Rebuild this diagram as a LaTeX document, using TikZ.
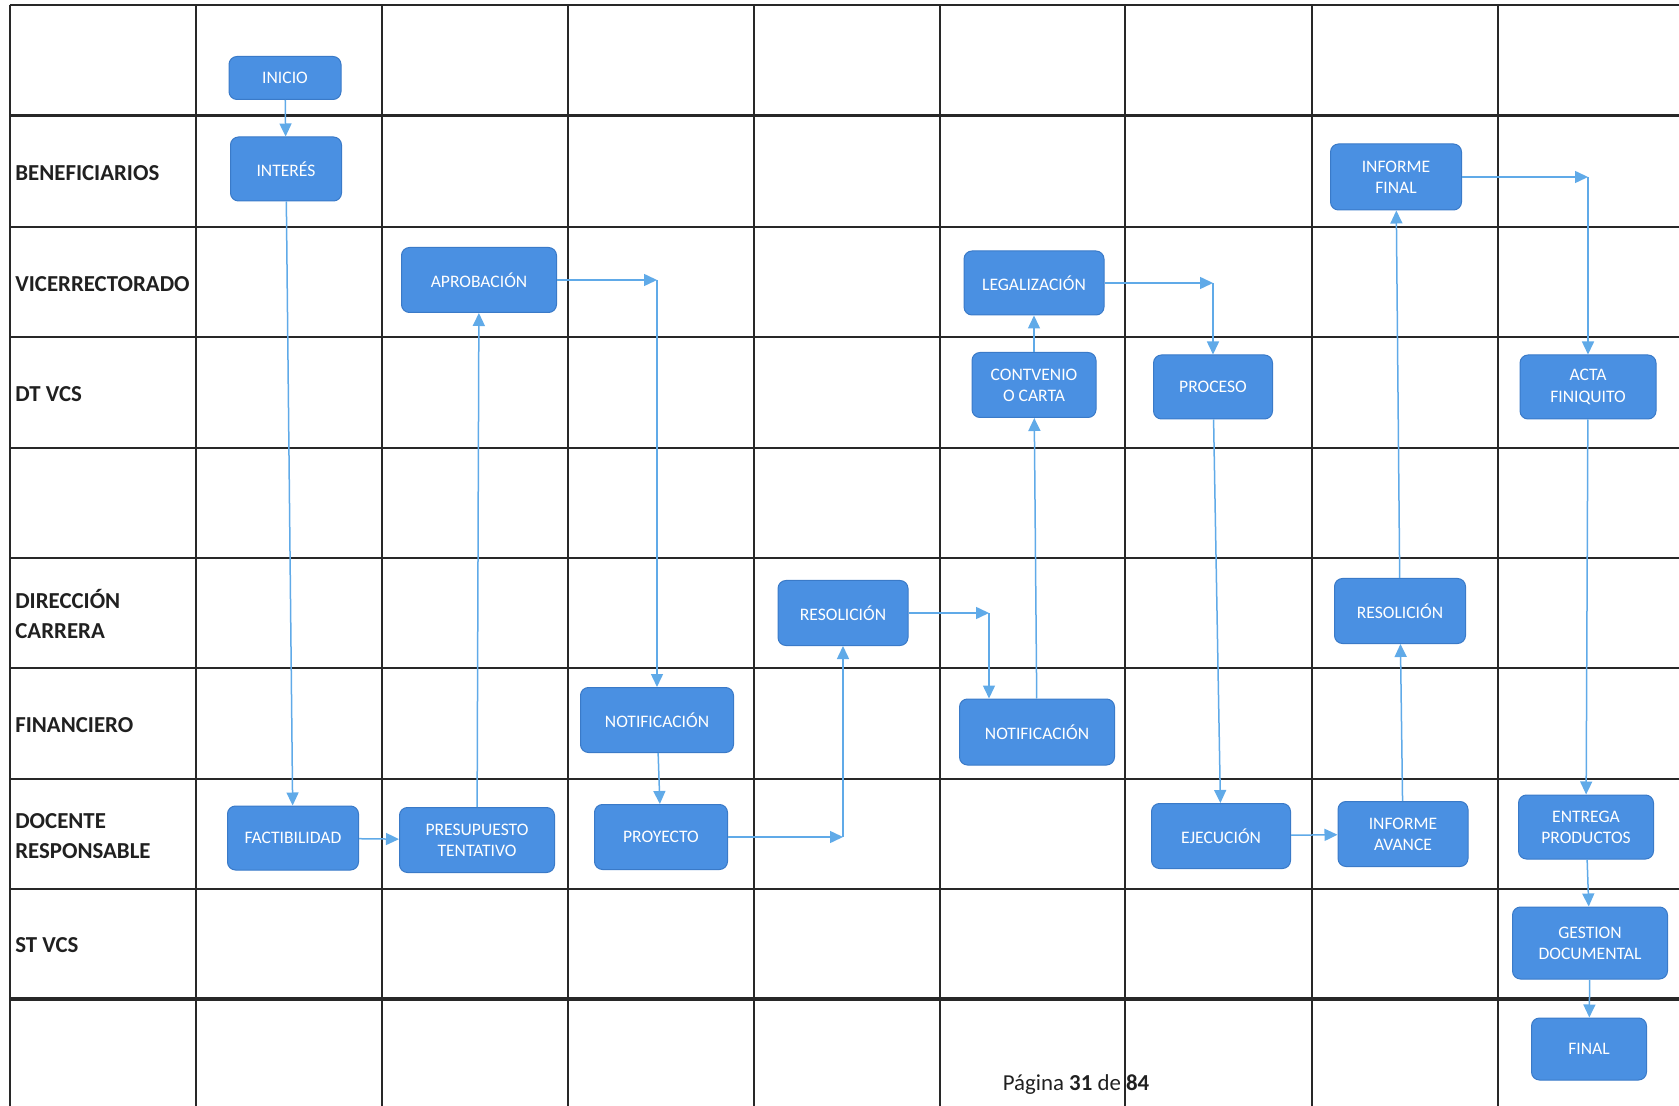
\documentclass[tikz,border=0pt]{standalone}
\usepackage{fontspec}
\setmainfont{Carlito}
\usepackage{xcolor}
\usepackage{tikz}
\usetikzlibrary{arrows.meta}
\definecolor{vcsBlue}{RGB}{74, 144, 226}
\definecolor{vcsEdge}{RGB}{58, 122, 200}
\definecolor{vcsArrow}{RGB}{96, 170, 232}
\definecolor{vcsGrid}{RGB}{40, 40, 40}

\begin{document}
\begin{tikzpicture}[x=0.2mm, y=-0.2mm,
  paso/.style={rectangle, rounded corners=1.6mm, fill=vcsBlue, draw=vcsEdge, line width=0.2mm,
    text=white, font=\fontsize{10}{12}\selectfont, align=center, inner sep=1mm},
  flecha/.style={draw=vcsArrow, line width=0.3mm, -{Triangle[length=2.6mm,width=2.4mm]}},
  carril/.style={anchor=west, inner sep=0pt, font=\fontsize{13}{17.5}\selectfont\bfseries, align=left, text=vcsGrid!80!black},
  linea/.style={draw=vcsGrid, line width=0.4mm},
  gruesa/.style={draw=vcsGrid, line width=0.65mm}]
\useasboundingbox (0,0) rectangle (1679,1106);

% Grid (rows)
\draw[linea] (9.6,5.4) -- (1679,5.4);
\draw[gruesa] (9.6,115.6) -- (1679,115.6);
\draw[linea] (9.6,227) -- (1679,227);
\draw[linea] (9.6,337.3) -- (1679,337.3);
\draw[linea] (9.6,447.6) -- (1679,447.6);
\draw[linea] (9.6,557.9) -- (1679,557.9);
\draw[linea] (9.6,668.2) -- (1679,668.2);
\draw[linea] (9.6,778.5) -- (1679,778.5);
\draw[linea] (9.6,888.8) -- (1679,888.8);
\draw[gruesa] (9.6,999) -- (1679,999);

% Grid (columns)
\draw[linea] (9.6,5.4) -- (9.6,1106);
\draw[linea] (196,5.4) -- (196,1106);
\draw[linea] (382,5.4) -- (382,1106);
\draw[linea] (567.5,5.4) -- (567.5,1106);
\draw[linea] (754,5.4) -- (754,1106);
\draw[linea] (940,5.4) -- (940,1106);
\draw[linea] (1125.4,5.4) -- (1125.4,1106);
\draw[linea] (1311.7,5.4) -- (1311.7,1106);
\draw[linea] (1498,5.4) -- (1498,1106);

% Lane labels
\node[carril] (lBenef) at (15,173.5) {BENEFICIARIOS};
\node[carril] (lVice) at (15,284) {VICERRECTORADO};
\node[carril] (lDtvcs) at (15,394) {DT VCS};
\node[carril] (lDir) at (15,614) {DIRECCIÓN\\CARRERA};
\node[carril] (lFin) at (15,725) {FINANCIERO};
\node[carril] (lDoc) at (15,836) {DOCENTE\\RESPONSABLE};
\node[carril] (lStvcs) at (15,945.5) {ST VCS};

% Steps
\node[paso, minimum width=22.4mm, minimum height=8.6mm] (inicio) at (285,78) {INICIO};
\node[paso, minimum width=22.2mm, minimum height=12.8mm] (interes) at (286,169) {INTERÉS};
\node[paso, minimum width=31mm, minimum height=13mm] (aprobacion) at (479,280) {APROBACIÓN};
\node[paso, minimum width=28mm, minimum height=12.8mm] (legalizacion) at (1034,283) {LEGALIZACIÓN};
\node[paso, minimum width=24.8mm, minimum height=13mm] (convenio) at (1034,385) {CONTVENIO\\O CARTA};
\node[paso, minimum width=23.8mm, minimum height=12.8mm] (proceso) at (1213,387) {PROCESO};
\node[paso, minimum width=26.2mm, minimum height=13.2mm] (infFinal) at (1396,177) {INFORME\\FINAL};
\node[paso, minimum width=27.2mm, minimum height=12.8mm] (acta) at (1588,387) {ACTA\\FINIQUITO};
\node[paso, minimum width=26mm, minimum height=13mm] (resolDir) at (843,613) {RESOLICIÓN};
\node[paso, minimum width=26.2mm, minimum height=13mm] (resolAv) at (1400,611) {RESOLICIÓN};
\node[paso, minimum width=30.6mm, minimum height=13mm] (notifFin) at (657,720) {NOTIFICACIÓN};
\node[paso, minimum width=31mm, minimum height=13.2mm] (notifLeg) at (1037,732) {NOTIFICACIÓN};
\node[paso, minimum width=26.2mm, minimum height=12.8mm] (factib) at (293,838) {FACTIBILIDAD};
\node[paso, minimum width=31mm, minimum height=13mm] (presup) at (477,840) {PRESUPUESTO\\TENTATIVO};
\node[paso, minimum width=26.6mm, minimum height=13mm] (proyecto) at (661,837) {PROYECTO};
\node[paso, minimum width=27.8mm, minimum height=13mm] (ejecucion) at (1221,836) {EJECUCIÓN};
\node[paso, minimum width=26mm, minimum height=13mm] (infAvance) at (1403,834) {INFORME\\AVANCE};
\node[paso, minimum width=27mm, minimum height=12.8mm] (entrega) at (1586,827) {ENTREGA\\PRODUCTOS};
\node[paso, minimum width=31mm, minimum height=14.4mm] (gestion) at (1590,943) {GESTION\\DOCUMENTAL};
\node[paso, minimum width=23mm, minimum height=12.4mm] (final) at (1589,1049) {FINAL};

% Elbows
\coordinate (cAprob) at (notifFin.north |- aprobacion.east);
\coordinate (cProy) at (resolDir.south |- proyecto.east);
\coordinate (cResol) at (989,613);
\coordinate (cLegal) at (proceso.north |- legalizacion.east);
\coordinate (cFinal) at (acta.north |- infFinal.east);

% Connectors
\draw[flecha] (inicio) -- (interes);
\draw[flecha] (interes) -- (factib);
\draw[flecha] (factib) -- (presup);
\draw[flecha] (presup) -- (aprobacion);
\draw[flecha] (aprobacion.east) -- (cAprob);
\draw[flecha] (cAprob) -- (notifFin.north);
\draw[flecha] (notifFin) -- (proyecto);
\draw[flecha] (proyecto.east) -- (cProy);
\draw[flecha] (cProy) -- (resolDir.south);
\draw[flecha] (resolDir.east) -- (cResol);
\draw[flecha] (cResol) -- (cResol |- notifLeg.north);
\draw[flecha] (notifLeg) -- (convenio);
\draw[flecha] (convenio) -- (legalizacion);
\draw[flecha] (legalizacion.east) -- (cLegal);
\draw[flecha] (cLegal) -- (proceso.north);
\draw[flecha] (proceso) -- (ejecucion);
\draw[flecha] (ejecucion) -- (infAvance);
\draw[flecha] (infAvance) -- (resolAv);
\draw[flecha] (resolAv) -- (infFinal);
\draw[flecha] (infFinal.east) -- (cFinal);
\draw[flecha] (cFinal) -- (acta.north);
\draw[flecha] (acta) -- (entrega);
\draw[flecha] (entrega) -- (gestion);
\draw[flecha] (gestion) -- (final);

% Footer
\node[font=\fontsize{13}{15}\selectfont, text=vcsGrid!80!black] (pagina) at (1076,1085) {Página \textbf{31} de \textbf{84}};
\end{tikzpicture}
\end{document}
